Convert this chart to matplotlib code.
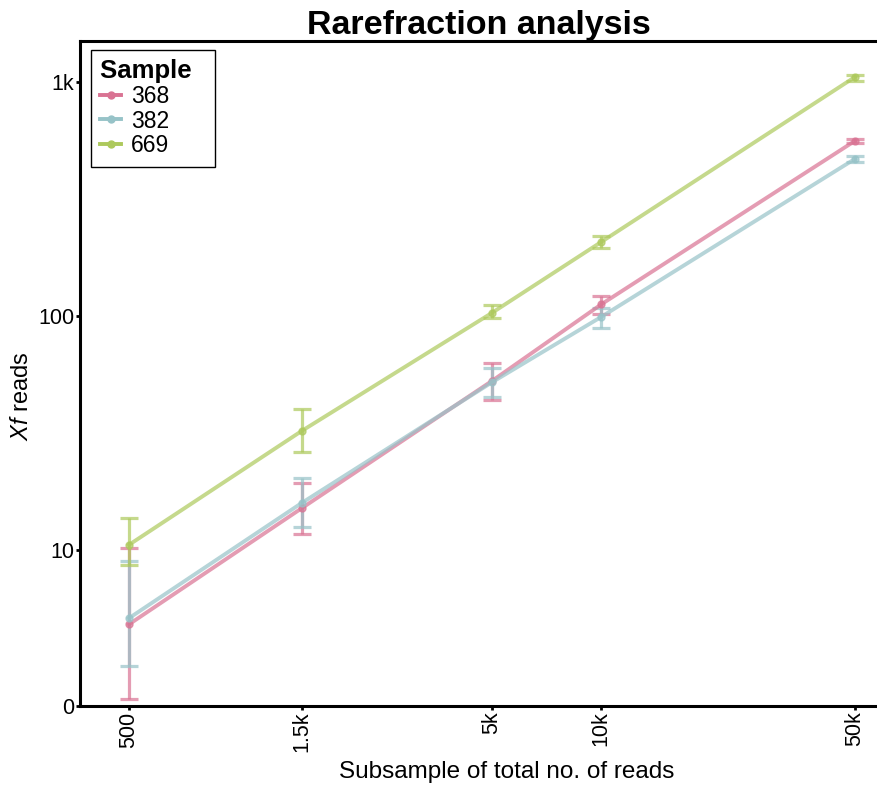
import matplotlib
matplotlib.use("Agg")
import matplotlib.pyplot as plt
from matplotlib.lines import Line2D

plt.rcParams['font.family'] = ['Liberation Sans', 'DejaVu Sans']
plt.rcParams['mathtext.fontset'] = 'custom'
plt.rcParams['mathtext.it'] = 'Liberation Sans:italic'
plt.rcParams['mathtext.rm'] = 'Liberation Sans'

# subsample sizes (x) and tick labels
subsamples = [500, 1500, 5000, 10000, 50000]
x_tick_labels = ['500', '1.5k', '5k', '10k', '50k']

# y ticks: bottom tick is labelled 0
y_ticks = [2.15, 10, 100, 1000]
y_tick_labels = ['0', '10', '100', '1k']

samples = ['368', '382', '669']
colors = ['#d97393', '#97c3c8', '#adc95c']

# mean reads and error bar limits
mean_368 = [4.8, 15.1, 52.7, 112, 560]
low_368 = [2.3, 11.7, 43.7, 102, 550]
high_368 = [10.2, 19.3, 63, 122, 570]

mean_382 = [5.1, 15.9, 52, 99, 469]
low_382 = [3.2, 12.5, 45, 89, 454]
high_382 = [9.0, 20.3, 60, 108, 484]

mean_669 = [10.5, 32.3, 103, 207, 1050]
low_669 = [8.6, 26.2, 98, 195, 1010]
high_669 = [13.7, 40.1, 111, 219, 1075]

means = [mean_368, mean_382, mean_669]
lows = [low_368, low_382, low_669]
highs = [high_368, high_382, high_669]

fig = plt.figure(figsize=(8.77, 7.86), dpi=100)
ax = fig.add_axes([0.0912, 0.1018, 0.9088, 0.846])

for name, col, m, lo, hi in zip(samples, colors, means, lows, highs):
    yerr = [[a - b for a, b in zip(m, lo)], [b - a for a, b in zip(m, hi)]]
    ax.errorbar(subsamples, m, yerr=yerr, color=col, alpha=0.7,
                linewidth=2.8, elinewidth=2.3, capsize=6.5, capthick=2.3,
                marker='o', markersize=5, zorder=3)

ax.set_xscale('log')
ax.set_yscale('log')
ax.set_xlim(366.6, 57500)
ax.set_ylim(2.15, 1496)

ax.set_xticks(subsamples)
ax.set_xticklabels(x_tick_labels, rotation=90, fontsize=15.5)
ax.xaxis.set_minor_locator(matplotlib.ticker.NullLocator())
ax.set_yticks(y_ticks)
ax.set_yticklabels(y_tick_labels, fontsize=15.5)
ax.yaxis.set_minor_locator(matplotlib.ticker.NullLocator())
ax.tick_params(length=3, width=2, color='black', pad=1)

for s in ['left', 'bottom', 'top']:
    ax.spines[s].set_linewidth(2.2)
    ax.spines[s].set_color('black')
ax.spines['right'].set_visible(False)

ax.set_title('Rarefraction analysis', fontsize=24.5, fontweight='bold', pad=4)
ax.set_xlabel('Subsample of total no. of reads', fontsize=17.5)
ax.xaxis.set_label_coords(0.536, -0.083)
ax.set_ylabel(r'$\it{Xf}$ reads', fontsize=17)
ax.yaxis.set_label_coords(-0.059, 0.466)

handles = [Line2D([0], [0], color=c, marker='o', markersize=5, linewidth=2.8)
           for c in colors]
leg = ax.legend(handles, samples, title='Sample  ', loc='upper left',
                bbox_to_anchor=(0.014, 0.987), borderaxespad=0,
                fancybox=False, edgecolor='black', fontsize=16.5,
                title_fontproperties={'weight': 'bold', 'size': 18.5},
                handlelength=0.9, handletextpad=0.45, labelspacing=0.08,
                borderpad=0.4, framealpha=1)
leg.get_frame().set_linewidth(1.0)
leg._legend_box.align = 'left'

fig.savefig('out.png', dpi=100)
